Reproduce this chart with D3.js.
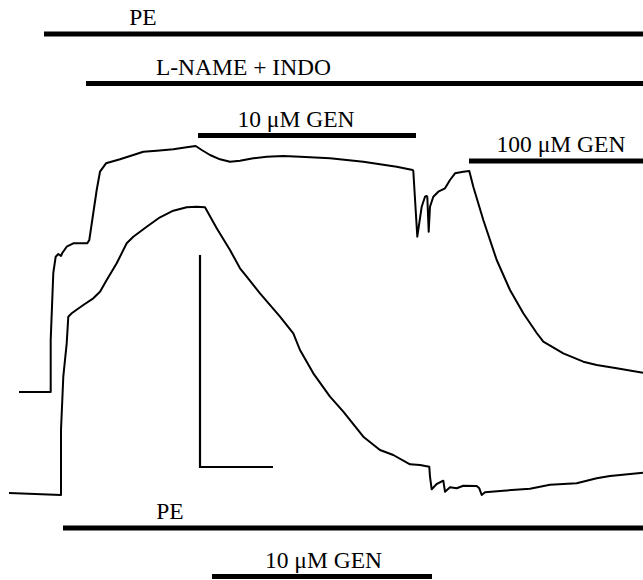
<!DOCTYPE html>
<html>
<head>
<meta charset="utf-8">
<script src="https://d3js.org/d3.v7.min.js"></script>
<style>
    body { margin: 0; background: #fff; }
    svg { display: block; }
    .trace { fill: none; stroke: #000; stroke-width: 2; stroke-linejoin: round; }
    .bar { stroke: #000; stroke-width: 5; }
    .scalebar { fill: none; stroke: #000; stroke-width: 2.2; }
    .label { font-family: "Liberation Serif", "Times New Roman", serif; font-size: 23.5px; fill: #000; }
</style>
</head>
<body>
<div id="chart"><svg></svg></div>
<script>
// time (arbitrary units) and tension (arbitrary units)

// PE + L-NAME + INDO, then 10 and 100 uM genistein
var tracedTime = [19, 50.7, 50.7, 53.3, 55.7, 58.3, 61, 62.3, 66.7, 73.3, 87.3, 89.3, 96.7, 100, 106, 120, 133.3, 143.3,
    156.7, 173.3, 186.7, 195.7, 201.7, 210, 220, 230, 240, 253.3, 266.7, 283.3, 300, 330, 363.3, 396.7, 412.7, 413.3,
    417.3, 421.7, 425, 426.7, 427.3, 428.7, 430, 433.3, 438.3, 445, 450, 455, 463.3, 469.3, 473.3, 483.3, 496.7, 510,
    523.3, 536.7, 543.3, 563.3, 583.3, 596.7, 616.7, 643];
var tracedTension = [188, 188, 240, 307, 323.3, 326, 324, 327, 333.3, 336.7, 336.7, 340, 390, 408.3, 416.7, 420.7, 425, 428.3,
    429.3, 430.7, 432.7, 434, 430, 425, 420.7, 418.3, 419.3, 421.7, 423.3, 424, 423.3, 421.7, 418.3, 413.3, 410, 409,
    343.3, 373.3, 383.3, 384, 383, 348.3, 373.3, 383.3, 388.3, 391.7, 400, 406.7, 408.3, 409, 393.3, 360, 320, 290,
    266.7, 247, 238.3, 226.7, 218.3, 215, 211.7, 207.3];

// PE alone, then 10 uM genistein
var controlTime = [9, 61, 61, 63.3, 66.7, 68.3, 71.7, 83.3, 93.3, 100, 106.7, 116.7, 126.7, 133.3, 146.7, 160, 173.3, 186.7,
    196.7, 205, 216.7, 230, 240, 246.7, 260, 280, 293.3, 300, 313.3, 330, 343.3, 363.3, 380, 393.3, 410, 420, 429.3,
    430, 431.7, 436.7, 443.3, 445, 450, 456.7, 463.3, 476.7, 479.3, 481.7, 485, 503.3, 530, 550, 576.7, 596.7, 610, 643];
var controlTension = [87, 85, 150, 203.3, 236.7, 263.3, 266.7, 275, 281.7, 288.3, 300, 316.7, 336.7, 343.3, 353.3, 362.7, 369.3, 372.7,
    373.3, 372.7, 351.7, 330, 311.7, 303.3, 286.7, 263.3, 246.7, 230, 206.7, 183.3, 168.3, 143.3, 130, 125, 115.7, 115, 113.3,
    103.3, 90.7, 96, 99.3, 88.3, 92.7, 91.7, 94.3, 94, 91.7, 85, 87.7, 89.3, 91.3, 95.3, 96.7, 101.7, 104, 107.3];

// drug application bars
var barLabels = ["PE", "L-NAME + INDO", "10 μM GEN", "100 μM GEN", "PE", "10 μM GEN"];
var barStart = [44, 86, 198, 469, 63, 212];
var barEnd = [643, 643, 416, 643, 643, 432];
var barLevel = [546, 496.5, 444.5, 419, 52, 3.5];
var labelAt = [143, 243.5, 296, 561, 170, 323.5];

// calibration bar
var calTime = [200, 200, 273];
var calTension = [325, 113, 113];

var width = 643, height = 580;

var svg = d3.select("#chart").select("svg")
    .attr("width", width)
    .attr("height", height);

var x = d3.scaleLinear()
    .domain([0, 643])
    .range([0, width]);

var y = d3.scaleLinear()
    .domain([0, 580])
    .range([height, 0]);

var line = d3.line()
    .x(function (d) { return x(d[0]); })
    .y(function (d) { return y(d[1]); });

var traces = [d3.zip(tracedTime, tracedTension), d3.zip(controlTime, controlTension)];

svg.selectAll(".trace")
    .data(traces)
    .enter().append("path")
    .classed("trace", true)
    .attr("d", line);

svg.append("path")
    .classed("scalebar", true)
    .attr("d", line(d3.zip(calTime, calTension)));

var bars = barLabels.map(function (d, i) {
    return {label: d, x0: barStart[i], x1: barEnd[i], level: barLevel[i], lx: labelAt[i]};
});

svg.selectAll(".bar")
    .data(bars)
    .enter().append("line")
    .classed("bar", true)
    .attr("x1", function (d) { return x(d.x0); })
    .attr("x2", function (d) { return x(d.x1); })
    .attr("y1", function (d) { return y(d.level); })
    .attr("y2", function (d) { return y(d.level); });

svg.selectAll(".label")
    .data(bars)
    .enter().append("text")
    .classed("label", true)
    .attr("text-anchor", "middle")
    .attr("x", function (d) { return x(d.lx); })
    .attr("y", function (d) { return y(d.level) - 9; })
    .text(function (d) { return d.label; });
</script>
</body>
</html>
